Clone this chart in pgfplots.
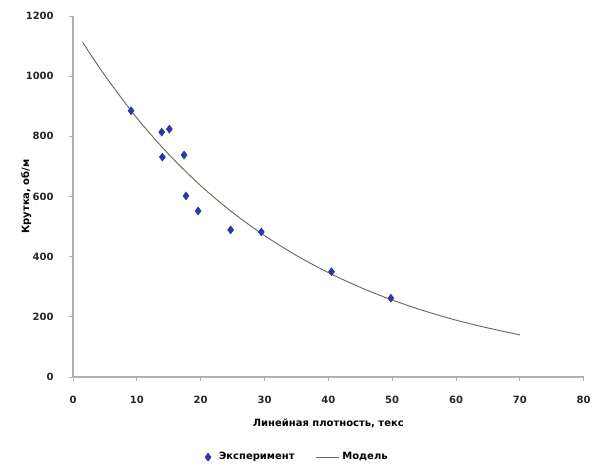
\documentclass[border=0pt]{standalone}
\usepackage{fontspec}
\setmainfont{DejaVu Sans}
\usepackage{pgfplots}
\pgfplotsset{compat=1.18}
\definecolor{ptblue}{RGB}{45,55,165}
\definecolor{modelline}{RGB}{105,105,85}
\definecolor{axgray}{RGB}{175,175,175}

\begin{document}
\begin{tikzpicture}[x=1pt,y=1pt]
\begin{axis}[
  name=ax,
  scale only axis,
  width=383pt, height=270.75pt,
  xmin=0, xmax=80, ymin=0, ymax=1200,
  xtick={0,10,...,80}, ytick={0,200,...,1200},
  axis x line*=bottom, axis y line*=left,
  axis line style={axgray, line width=0.8pt},
  tick style={axgray, line width=0.6pt},
  tick align=outside, major tick length=3pt,
  /pgf/number format/assume math mode=true,
  /pgf/number format/set thousands separator={},
  ticklabel style={font=\fontsize{7.5}{9}\selectfont\bfseries, text=black!85},
  xticklabel style={yshift=-8pt},
  yticklabel style={xshift=-8pt},
  xlabel={Линейная плотность, текс},
  ylabel={Крутка, об/м},
  label style={font=\fontsize{7.5}{9}\selectfont\bfseries},
  xlabel style={yshift=-4pt},
  ylabel style={yshift=-11pt},
  legend columns=2,
  legend style={at={(0.44,-0.222)}, anchor=center, draw=none, fill=none,
    font=\fontsize{7.5}{9}\selectfont\bfseries,
    /tikz/every even column/.append style={column sep=14pt}},
  legend cell align=left,
]
\addplot[only marks, mark=diamond*, mark size=3pt, color=ptblue] coordinates {
  (9.1,885) (13.9,814) (15.1,824) (14.0,731) (17.4,738)
  (17.7,602) (19.6,552) (24.7,489) (29.5,482) (40.5,350) (49.8,262)
};
\addlegendentry{\hspace{4pt}Эксперимент}
\addplot[no marks, color=modelline, line width=0.7pt, smooth] coordinates {
  (1.5,1113) (5,1002) (10,861) (15,740) (20,636) (25,547) (30,470)
  (35,404) (40,347) (45,298) (50,256) (55,220) (60,189) (65,163) (70,140)
};
\addlegendentry{Модель}
\end{axis}
\pgfresetboundingbox
\path (ax.south west) ++(-54.75pt,-66.75pt) coordinate (bl);
\path (ax.north east) ++(7.75pt,12pt) coordinate (tr);
\path[use as bounding box] (bl) rectangle (tr);
\end{tikzpicture}
\end{document}
